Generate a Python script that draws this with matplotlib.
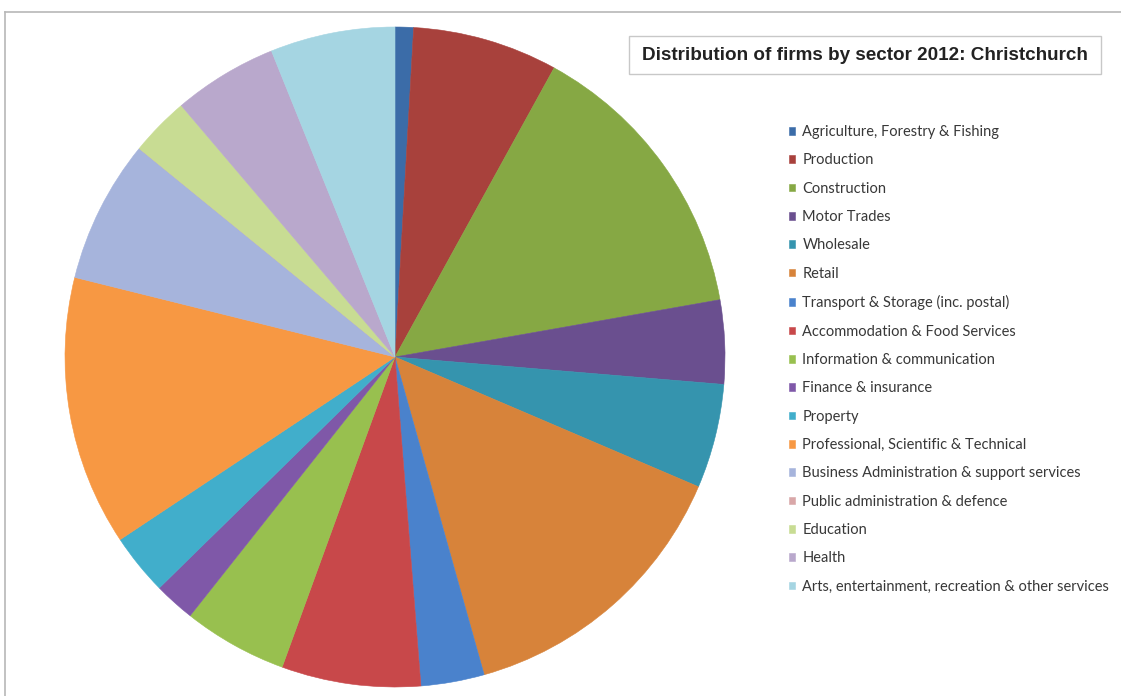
import matplotlib
matplotlib.use('Agg')
import matplotlib.pyplot as plt
from matplotlib.patches import Rectangle
from matplotlib.lines import Line2D

sectors = ['Agriculture, Forestry & Fishing', 'Production', 'Construction', 'Motor Trades',
           'Wholesale', 'Retail', 'Transport & Storage (inc. postal)',
           'Accommodation & Food Services', 'Information & communication',
           'Finance & insurance', 'Property', 'Professional, Scientific & Technical',
           'Business Administration & support services', 'Public administration & defence',
           'Education', 'Health', 'Arts, entertainment, recreation & other services']
shares = [0.9, 7.1, 14.2, 4.1, 5.1, 14.2, 3.1, 6.8, 5.1, 2.0, 3.0, 13.2, 7.0, 0.0, 2.9, 5.1, 6.1]
colors = ['#3b6ca8', '#a8413c', '#86a844', '#6a4f8f', '#3594ae', '#d7833a',
          '#4a82cc', '#c8484a', '#98c04f', '#7f58a8', '#41aecb', '#f79843',
          '#a6b4dc', '#d9a7a8', '#c8dc93', '#b9a8cc', '#a5d5e2']

W, H = 1121, 696
fig = plt.figure(figsize=(W / 100, H / 100), dpi=100)
fig.patch.set_facecolor('white')

# pie centre ~(395, 357) px, radius ~330 px
cx, cy, r = 395, 357, 330
ax = fig.add_axes([(cx - r) / W, (H - cy - r) / H, 2 * r / W, 2 * r / H])
wedges, _ = ax.pie(shares, colors=colors, startangle=90, counterclock=False,
                   radius=1, wedgeprops=dict(linewidth=0.4, edgecolor='none'))
for w, c in zip(wedges, colors):
    w.set_edgecolor(c)
ax.set_xlim(-1, 1)
ax.set_ylim(-1, 1)
ax.set_aspect('equal')
ax.axis('off')

# outer frame (top and left edges)
fig.add_artist(Line2D([5 / W, 1], [1 - 12 / H, 1 - 12 / H], color='#b8b8b8', lw=1.2))
fig.add_artist(Line2D([5 / W, 5 / W], [0, 1 - 12 / H], color='#b8b8b8', lw=1.2))

# title box
fig.add_artist(Rectangle((629 / W, 1 - 74 / H), 472 / W, 38 / H, facecolor='white',
                         edgecolor='#c8c8c8', lw=1))
fig.text(865 / W, 1 - 55 / H, 'Distribution of firms by sector 2012: Christchurch',
         ha='center', va='center', fontsize=13.6, fontweight='bold', color='#222222',
         family=['Liberation Sans Narrow', 'Liberation Sans', 'DejaVu Sans'])

leg = fig.legend(wedges, sectors, loc='upper left', bbox_to_anchor=(789 / W, 1 - 125 / H),
                 frameon=False, handlelength=0.42, handleheight=0.42,
                 handletextpad=0.5, labelspacing=0.98, borderpad=0, borderaxespad=0,
                 prop={'family': 'Lato', 'size': 10.55})
for t in leg.get_texts():
    t.set_color('#383838')

plt.savefig('out.png', dpi=100)
